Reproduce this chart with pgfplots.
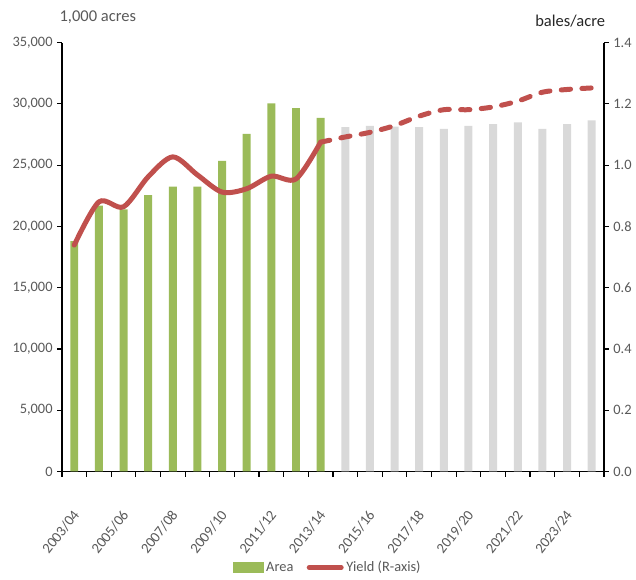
\documentclass[border=0pt]{standalone}
\usepackage{pgfplots}
\pgfplotsset{compat=1.18}
\usepackage{pgfplotstable}
\usepackage{fontspec}
\setmainfont{Carlito}
\definecolor{barg}{HTML}{9BBB59}
\definecolor{bargrey}{HTML}{D9D9D9}
\definecolor{yred}{HTML}{C0504D}
\definecolor{txt}{HTML}{595959}

\pgfplotstableread{
x area
0 18800
1 21700
2 21400
3 22550
4 23250
5 23250
6 25350
7 27550
8 30050
9 29650
10 28850
}\areahist

\pgfplotstableread{
x area
11 28100
12 28200
13 28150
14 28100
15 27950
16 28200
17 28350
18 28500
19 27950
20 28350
21 28650
}\areaproj

\pgfplotstableread{
x yield
0 0.739
1 0.880
2 0.864
3 0.962
4 1.027
5 0.968
6 0.912
7 0.923
8 0.964
9 0.955
10 1.075
}\yieldhist

\pgfplotstableread{
x yield
10 1.075
11 1.092
12 1.107
13 1.129
14 1.160
15 1.181
16 1.181
17 1.190
18 1.209
19 1.238
20 1.247
21 1.252
}\yieldproj

\begin{document}
\begin{tikzpicture}[font=\fontsize{10.8}{13}\selectfont]
\pgfplotsset{
  every axis/.append style={
    width=407pt, height=322pt, scale only axis,
    xmin=-0.5, xmax=21.5,
    axis line style={black, line width=0.9pt},
    tick style={black, line width=0.9pt},
    tick align=outside,
    major tick length=3.5pt,
    tick label style={text=txt, font=\fontsize{10.8}{13}\selectfont},
  }
}
\begin{axis}[
  at={(0,0)}, anchor=south west,
  ymin=0, ymax=35000,
  axis x line*=bottom, axis y line*=left,
  xtick={0,2,...,20},
  xticklabels={2003/04,2005/06,2007/08,2009/10,2011/12,2013/14,2015/16,2017/18,2019/20,2021/22,2023/24},
  major x tick style={draw=none},
  minor xtick={-0.5,0.5,...,21.5},
  minor tick length=4pt,
  minor x tick style={black, line width=0.9pt},
  x tick label style={font=\fontsize{11}{13}\selectfont, xshift=-2pt, yshift=-23pt, rotate=52, anchor=north east, inner sep=1pt},
  ytick={0,5000,10000,15000,20000,25000,30000,35000},
  scaled y ticks=false,
  yticklabel style={/pgf/number format/.cd, 1000 sep={,}, assume math mode=true},
  ybar, bar width=6pt,
  legend style={at={(axis description cs:0.491,-0.224)}, anchor=center, draw=none,
    legend columns=2, font=\fontsize{10.8}{13}\selectfont, text=txt,
    /tikz/every even column/.append style={column sep=8pt}},
  clip=false,
]
\addplot[fill=barg, draw=none, bar shift=0pt,
  legend image code/.code={\fill[barg] (0pt,-4pt) rectangle (23pt,4pt);}]
  table[x=x,y=area]{\areahist};
\addlegendentry{Area}
\addplot[fill=bargrey, draw=none, bar shift=0pt, forget plot]
  table[x=x,y=area]{\areaproj};
\addlegendimage{legend image code/.code={\draw[yred, line width=3.75pt, line cap=round] (2pt,0pt) -- (26pt,0pt);}}
\addlegendentry{Yield (R-axis)}
\node[anchor=west, text=txt, inner sep=0pt, font=\fontsize{12.4}{14}\selectfont] at (rel axis cs:0,1) [yshift=19pt, xshift=-2pt] {1,000 acres};
\end{axis}
\begin{axis}[
  at={(0,0)}, anchor=south west,
  ymin=0, ymax=1.4,
  axis x line=none, axis y line*=right,
  ytick={0,0.2,0.4,0.6,0.8,1.0,1.2,1.4},
  yticklabel style={/pgf/number format/.cd, fixed, fixed zerofill, precision=1, assume math mode=true},
  clip=false,
]
\addplot[yred, line width=3.75pt, smooth, line cap=round, line join=round]
  table[x=x,y=yield]{\yieldhist};
\addplot[yred, line width=3.75pt, smooth, line cap=round, dash pattern=on 7pt off 8.5pt]
  table[x=x,y=yield]{\yieldproj};
\node[anchor=east, text=black!85, inner sep=0pt, font=\fontsize{12.4}{14}\selectfont] at (rel axis cs:1,1) [yshift=16pt, xshift=1pt] {bales/acre};
\end{axis}
\path (-46.5pt,354pt) (430.5pt,-80.25pt);
\end{tikzpicture}
\end{document}
